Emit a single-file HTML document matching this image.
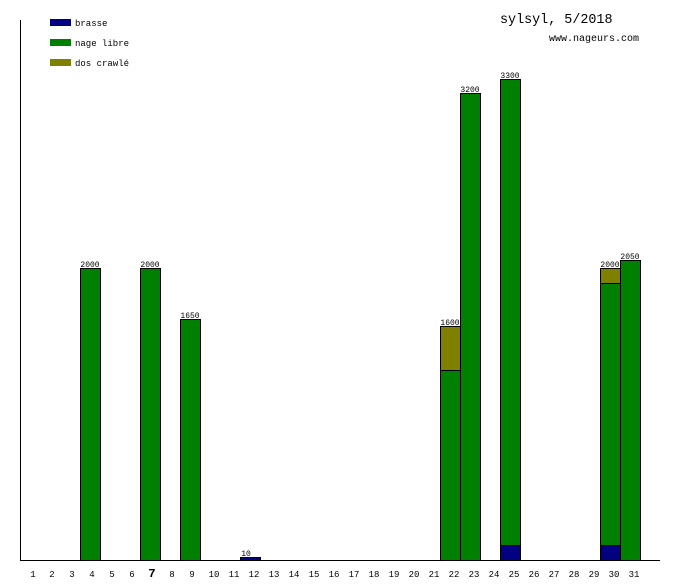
<!DOCTYPE html><html><head><style>body{margin:0;background:#fff}</style></head><body>
<svg width="680" height="580" xmlns="http://www.w3.org/2000/svg" font-family="Liberation Mono, monospace">
<rect width="680" height="580" fill="#fff"/>
<line x1="20.5" y1="20" x2="20.5" y2="560" stroke="#000"/>
<line x1="20" y1="560.5" x2="660" y2="560.5" stroke="#000"/>
<rect x="50" y="19" width="21" height="7" fill="#000080"/>
<rect x="50" y="39" width="21" height="7" fill="#008000"/>
<rect x="50" y="59" width="21" height="7" fill="#808000"/>
<g font-size="9" fill="#000">
<text x="75" y="26">brasse</text><text x="75" y="46">nage libre</text><text x="75" y="66">dos crawlé</text>
</g>
<text x="500" y="23" font-size="13.4">sylsyl, 5/2018</text>
<text x="549" y="41" font-size="10">www.nageurs.com</text>
<g stroke="#000" stroke-width="1">
<rect x="80.5" y="268.5" width="20" height="292" fill="#008000"/>
<rect x="140.5" y="268.5" width="20" height="292" fill="#008000"/>
<rect x="180.5" y="319.5" width="20" height="241" fill="#008000"/>
<rect x="240.5" y="557.5" width="20" height="3" fill="#000080"/>
<rect x="440.5" y="370.5" width="20" height="190" fill="#008000"/>
<rect x="440.5" y="326.5" width="20" height="44" fill="#808000"/>
<rect x="460.5" y="93.5" width="20" height="467" fill="#008000"/>
<rect x="500.5" y="79.5" width="20" height="466" fill="#008000"/>
<rect x="500.5" y="545.5" width="20" height="15" fill="#000080"/>
<rect x="600.5" y="283.5" width="20" height="262" fill="#008000"/>
<rect x="600.5" y="268.5" width="20" height="15" fill="#808000"/>
<rect x="600.5" y="545.5" width="20" height="15" fill="#000080"/>
<rect x="620.5" y="260.5" width="20" height="300" fill="#008000"/>
</g>
<g font-size="8" text-anchor="middle">
<text x="90" y="267">2000</text><text x="150" y="267">2000</text><text x="190" y="318">1650</text>
<text x="246" y="556">10</text><text x="450" y="325">1600</text><text x="470" y="92">3200</text>
<text x="510" y="78">3300</text><text x="610" y="267">2000</text><text x="630" y="259">2050</text>
</g>
<g font-size="9" text-anchor="middle">
<text x="33" y="577">1</text><text x="52" y="577">2</text><text x="72" y="577">3</text><text x="92" y="577">4</text><text x="112" y="577">5</text><text x="132" y="577">6</text><text x="152" y="577" font-size="12" font-weight="bold">7</text><text x="172" y="577">8</text><text x="192" y="577">9</text><text x="214" y="577">10</text><text x="234" y="577">11</text><text x="254" y="577">12</text><text x="274" y="577">13</text><text x="294" y="577">14</text><text x="314" y="577">15</text><text x="334" y="577">16</text><text x="354" y="577">17</text><text x="374" y="577">18</text><text x="394" y="577">19</text><text x="414" y="577">20</text><text x="434" y="577">21</text><text x="454" y="577">22</text><text x="474" y="577">23</text><text x="494" y="577">24</text><text x="514" y="577">25</text><text x="534" y="577">26</text><text x="554" y="577">27</text><text x="574" y="577">28</text><text x="594" y="577">29</text><text x="614" y="577">30</text><text x="634" y="577">31</text>
</g>
</svg></body></html>
